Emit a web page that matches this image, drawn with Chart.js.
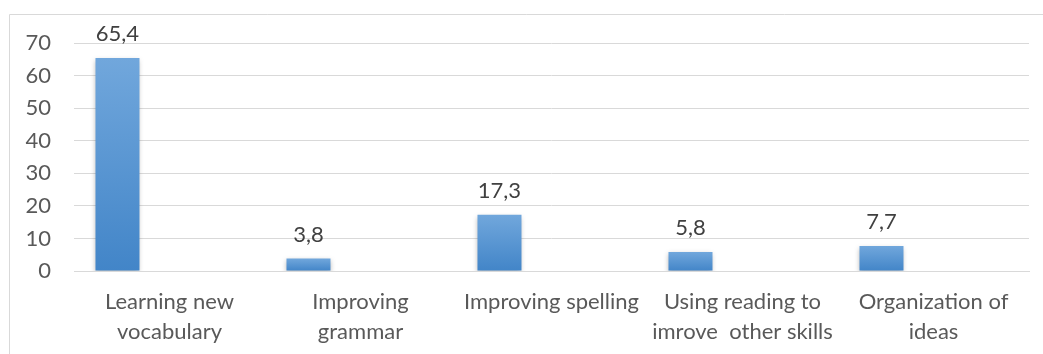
<!DOCTYPE html>
<html>
<head>
<meta charset="utf-8">
<script src="https://cdn.jsdelivr.net/npm/chart.js@4"></script>
<style>
    html, body { margin: 0; padding: 0; background: #fff; }
    #wrap { position: relative; width: 1043px; height: 354px; }
</style>
</head>
<body>
<div id="wrap"><canvas id="skillsChart"></canvas></div>
<script>
// chart data
const categories = [
    ['Learning new', 'vocabulary'],
    ['Improving', 'grammar'],
    'Improving spelling',
    ['Using reading to', 'imrove  other skills'],
    ['Organization of', 'ideas']
];
const percentValues = [65.4, 3.8, 17.3, 5.8, 7.7];
const series2Values = [];
const series3Values = [];
const yTicks = [0, 10, 20, 30, 40, 50, 60, 70];

document.addEventListener('DOMContentLoaded', () => {
    const canvas = document.getElementById('skillsChart');
    const fontFamily = 'Lato, "Open Sans", sans-serif';

    // thin frame on the left and top, like the Excel chart border
    const framePlugin = {
        id: 'frame',
        beforeDraw(chart) {
            const c = chart.ctx;
            c.save();
            c.strokeStyle = '#d9d9d9';
            c.lineWidth = 1;
            c.beginPath();
            c.moveTo(9.5, chart.height);
            c.lineTo(9.5, 14.5);
            c.lineTo(chart.width, 14.5);
            c.stroke();
            c.restore();
        }
    };

    // soft shadow below the bars
    const shadowPlugin = {
        id: 'barShadow',
        beforeDatasetsDraw(chart) {
            const c = chart.ctx;
            c.save();
            c.shadowColor = 'rgba(0, 0, 0, 0.28)';
            c.shadowBlur = 5;
            c.shadowOffsetX = 0;
            c.shadowOffsetY = 2;
        },
        afterDatasetsDraw(chart) {
            chart.ctx.restore();
        }
    };

    // value labels above the bars, with comma decimals
    const valueLabels = {
        id: 'valueLabels',
        afterDatasetsDraw(chart) {
            const c = chart.ctx;
            const meta = chart.getDatasetMeta(0);
            c.save();
            c.fillStyle = '#404040';
            c.font = '22px ' + fontFamily;
            c.textAlign = 'center';
            c.textBaseline = 'middle';
            meta.data.forEach((bar, i) => {
                const text = percentValues[i].toFixed(1).replace('.', ',');
                c.fillText(text, bar.x, bar.y - 24);
            });
            c.restore();
        }
    };

    function barGradient(context) {
        const chart = context.chart;
        if (!chart.chartArea || context.raw == null) {
            return '#5b9bd5';
        }
        const y = chart.scales.y;
        const top = y.getPixelForValue(context.raw);
        const base = y.getPixelForValue(0);
        const g = chart.ctx.createLinearGradient(0, top, 0, base);
        g.addColorStop(0, '#71a7dc');
        g.addColorStop(1, '#4285c8');
        return g;
    }

    new Chart(canvas, {
        type: 'bar',
        data: {
            labels: categories,
            datasets: [{
                label: 'Series1',
                data: percentValues,
                backgroundColor: barGradient,
                borderWidth: 0,
            }, {
                label: 'Series2',
                data: series2Values,
            }, {
                label: 'Series3',
                data: series3Values,
            }]
        },
        options: {
            responsive: true,
            maintainAspectRatio: false,
            animation: false,
            categoryPercentage: 0.817,
            barPercentage: 0.846,
            layout: {
                padding: { top: 43, right: 14, left: 0, bottom: 0 }
            },
            scales: {
                x: {
                    grid: { display: false, drawTicks: false },
                    border: { display: true, color: '#d9d9d9' },
                    afterFit(scale) { scale.height = 83; },
                    ticks: {
                        color: '#595959',
                        padding: 16,
                        maxRotation: 0,
                        autoSkip: false,
                        font: { family: fontFamily, size: 22, lineHeight: 1.36 }
                    }
                },
                y: {
                    min: 0,
                    max: 70,
                    afterFit(scale) { scale.width = 74; },
                    afterBuildTicks(scale) {
                        scale.ticks = yTicks.map(v => ({ value: v }));
                    },
                    grid: { color: '#d9d9d9', lineWidth: 1, drawTicks: false },
                    border: { display: false },
                    ticks: {
                        color: '#595959',
                        padding: 23,
                        font: { family: fontFamily, size: 22 }
                    }
                }
            },
            plugins: {
                legend: { display: false },
                tooltip: { enabled: false }
            }
        },
        plugins: [framePlugin, shadowPlugin, valueLabels]
    });
});
</script>
</body>
</html>
